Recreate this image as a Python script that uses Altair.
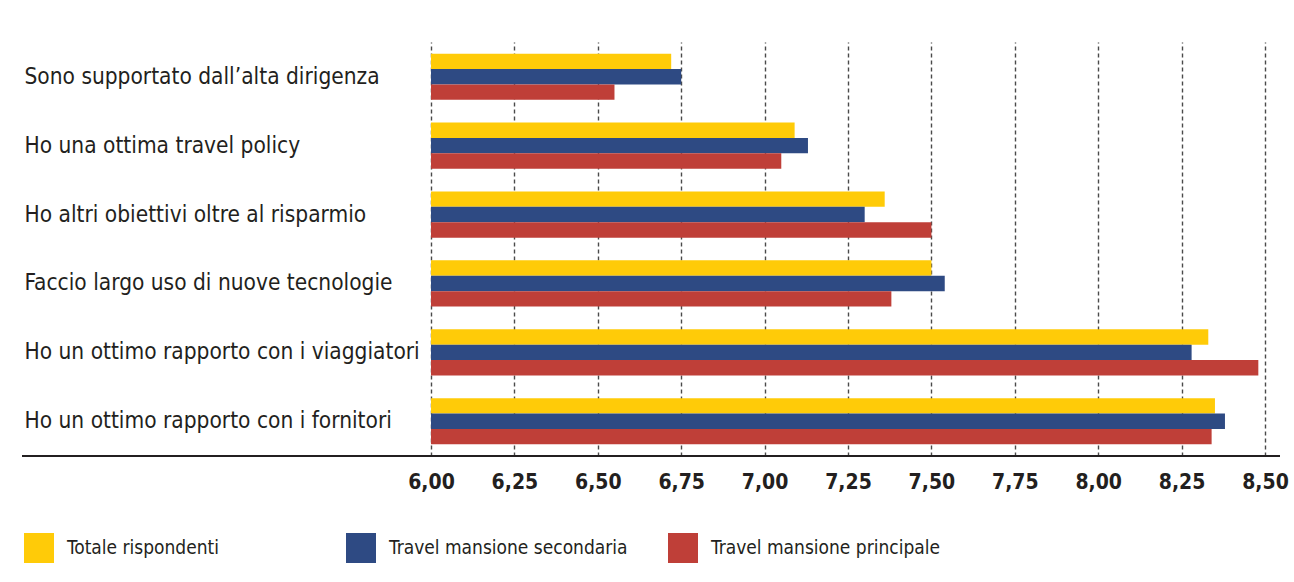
import altair as alt
import pandas as pd

categories = [
    "Sono supportato dall\u2019alta dirigenza",
    "Ho una ottima travel policy",
    "Ho altri obiettivi oltre al risparmio",
    "Faccio largo uso di nuove tecnologie",
    "Ho un ottimo rapporto con i viaggiatori",
    "Ho un ottimo rapporto con i fornitori",
]
series = ["Totale rispondenti", "Travel mansione secondaria", "Travel mansione principale"]
totale = [6.72, 7.09, 7.36, 7.50, 8.33, 8.35]
secondaria = [6.75, 7.13, 7.30, 7.54, 8.28, 8.38]
principale = [6.55, 7.05, 7.50, 7.38, 8.48, 8.34]
colors = ["#FFCB08", "#2E4A83", "#BF3F38"]
tick_values = [6.0, 6.25, 6.5, 6.75, 7.0, 7.25, 7.5, 7.75, 8.0, 8.25, 8.5]

rows = []
for s, vals in zip(series, [totale, secondaria, principale]):
    for c, v in zip(categories, vals):
        rows.append({"categoria": c, "serie": s, "valore": v})
df = pd.DataFrame(rows)

FONT = "DejaVu Sans Condensed, sans-serif"
TXT = "#231f20"
W, H = 834, 414

bars = alt.Chart(df).mark_bar().encode(
    y=alt.Y("categoria:N", sort=categories, title=None,
            scale=alt.Scale(paddingInner=0.33, paddingOuter=0.17),
            axis=alt.Axis(labelAlign="left", labelPadding=407, ticks=False, tickSize=0,
                          domain=False, labelFont=FONT, labelFontSize=22.5,
                          labelColor=TXT, labelLimit=420)),
    yOffset=alt.YOffset("serie:N", sort=series, scale=alt.Scale(paddingInner=0, paddingOuter=0)),
    x=alt.X("valore:Q", title=None,
            scale=alt.Scale(domain=[6, 8.5], zero=False, nice=False),
            axis=alt.Axis(values=tick_values, grid=True, gridDash=[4, 3], gridColor="#4a4a4a",
                          gridWidth=1.4, ticks=False, domain=False, labelFlush=False,
                          labelOverlap=False,
                          labelExpr="replace(format(datum.value, '.2f'), '.', ',')",
                          labelFont=FONT, labelFontSize=21, labelFontWeight="bold",
                          labelColor=TXT, labelPadding=15)),
    x2=alt.datum(6),
    color=alt.Color("serie:N", sort=series, title=None,
                    scale=alt.Scale(domain=series, range=colors),
                    legend=alt.Legend(orient="none", legendX=-407, legendY=491,
                                      direction="horizontal", columns=3, gridAlign="all",
                                      columnPadding=40, symbolType="square", symbolSize=900,
                                      symbolStrokeWidth=0, symbolOpacity=1, labelOffset=13,
                                      labelFont=FONT, labelFontSize=19, labelColor=TXT,
                                      labelLimit=300)),
)

baseline = alt.Chart(pd.DataFrame({"v": [0]})).mark_rule(color="#231f20", strokeWidth=2).encode(
    x=alt.value(-409), x2=alt.value(849), y=alt.value(H)
)

chart = alt.layer(bars, baseline).properties(
    width=W, height=H, background="white",
    padding={"left": 21, "top": 42, "right": 0, "bottom": 10},
).configure_view(stroke=None)

chart.save("out.html", embed_options={"renderer": "svg", "actions": False})
